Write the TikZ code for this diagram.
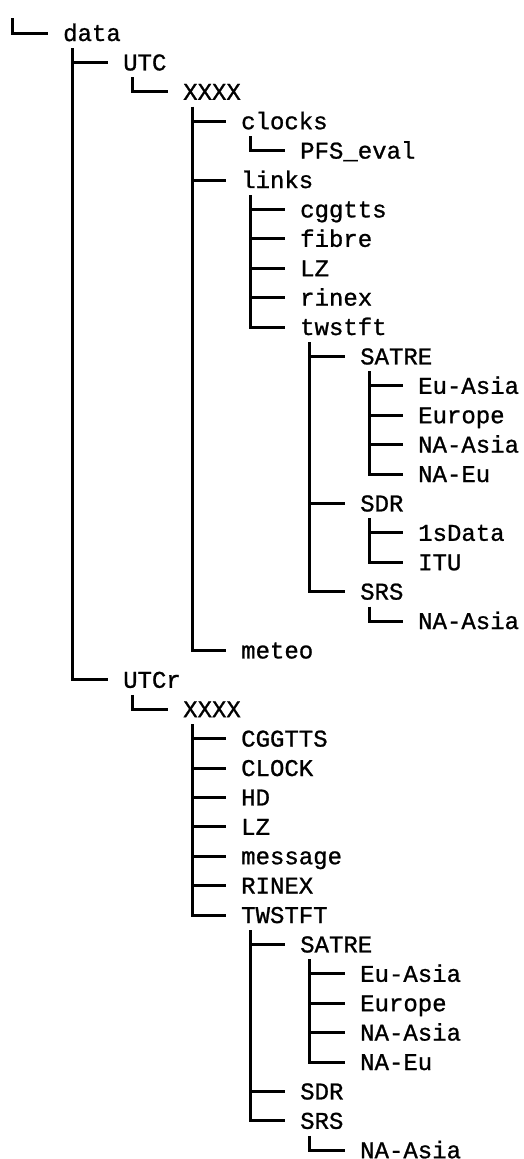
\documentclass[tikz,border=0pt]{standalone}
\usepackage{fontspec}
\newfontfamily\treefont[FakeBold=1]{Liberation Mono}
\usetikzlibrary{calc}
\tikzset{
  entry/.style={anchor=west, inner sep=0pt, text height=16pt, text depth=0pt,
    font=\treefont\fontsize{24}{28}\selectfont},
  branch/.style={line width=3pt, line join=miter},
}

\begin{document}
\begin{tikzpicture}[x=1pt, y=-1pt]
  \useasboundingbox (0,0) rectangle (523,1159);
  % root
  \coordinate (root) at (12,18);
  \node[entry] (data) at (63,33) {data};
  % UTC tree
  \node[entry] (utc) at (123,62.4) {UTC};
  \node[entry] (utcx) at (183,91.8) {XXXX};
  \node[entry] (clocks) at (241,121.2) {clocks};
  \node[entry] (pfs) at (300,150.6) {PFS\_eval};
  \node[entry] (links) at (241,180) {links};
  \node[entry] (cggtts) at (300,209.4) {cggtts};
  \node[entry] (fibre) at (300,238.8) {fibre};
  \node[entry] (lz) at (300,268.2) {LZ};
  \node[entry] (rinex) at (300,297.6) {rinex};
  \node[entry] (twstft) at (300,327) {twstft};
  \node[entry] (satre) at (360,356.4) {SATRE};
  \node[entry] (euasia) at (418,385.8) {Eu-Asia};
  \node[entry] (europe) at (418,415.2) {Europe};
  \node[entry] (naasia) at (418,444.6) {NA-Asia};
  \node[entry] (naeu) at (418,474) {NA-Eu};
  \node[entry] (sdr) at (360,503.4) {SDR};
  \node[entry] (onesdata) at (418,532.8) {1sData};
  \node[entry] (itu) at (418,562.2) {ITU};
  \node[entry] (srs) at (360,591.6) {SRS};
  \node[entry] (srsasia) at (418,621) {NA-Asia};
  \node[entry] (meteo) at (241,650.4) {meteo};
  % UTCr tree
  \node[entry] (utcr) at (123,679.8) {UTCr};
  \node[entry] (utcrx) at (183,709.2) {XXXX};
  \node[entry] (rcggtts) at (241,738.6) {CGGTTS};
  \node[entry] (rclock) at (241,768) {CLOCK};
  \node[entry] (rhd) at (241,797.4) {HD};
  \node[entry] (rlz) at (241,826.8) {LZ};
  \node[entry] (rmessage) at (241,856.2) {message};
  \node[entry] (rrinex) at (241,885.6) {RINEX};
  \node[entry] (rtwstft) at (241,915) {TWSTFT};
  \node[entry] (rsatre) at (300,944.4) {SATRE};
  \node[entry] (reuasia) at (360,973.8) {Eu-Asia};
  \node[entry] (reurope) at (360,1003.2) {Europe};
  \node[entry] (rnaasia) at (360,1032.6) {NA-Asia};
  \node[entry] (rnaeu) at (360,1062) {NA-Eu};
  \node[entry] (rsdr) at (300,1091.4) {SDR};
  \node[entry] (rsrs) at (300,1120.8) {SRS};
  \node[entry] (rsrsasia) at (360,1150.2) {NA-Asia};
  % elbows parent -> child
  \draw[branch] (root) |- ($(data.west)+(-15,0)$);
  \foreach \p/\c in {data/utc, utc/utcx, utcx/clocks, clocks/pfs,
      utcx/links, links/cggtts, links/fibre, links/lz, links/rinex, links/twstft,
      twstft/satre, satre/euasia, satre/europe, satre/naasia, satre/naeu,
      twstft/sdr, sdr/onesdata, sdr/itu, twstft/srs, srs/srsasia, utcx/meteo,
      data/utcr, utcr/utcrx, utcrx/rcggtts, utcrx/rclock, utcrx/rhd, utcrx/rlz,
      utcrx/rmessage, utcrx/rrinex, utcrx/rtwstft, rtwstft/rsatre,
      rsatre/reuasia, rsatre/reurope, rsatre/rnaasia, rsatre/rnaeu,
      rtwstft/rsdr, rtwstft/rsrs, rsrs/rsrsasia}
    \draw[branch] ($(\p.west)+(9,15)$) |- ($(\c.west)+(-15,0)$);
\end{tikzpicture}
\end{document}
